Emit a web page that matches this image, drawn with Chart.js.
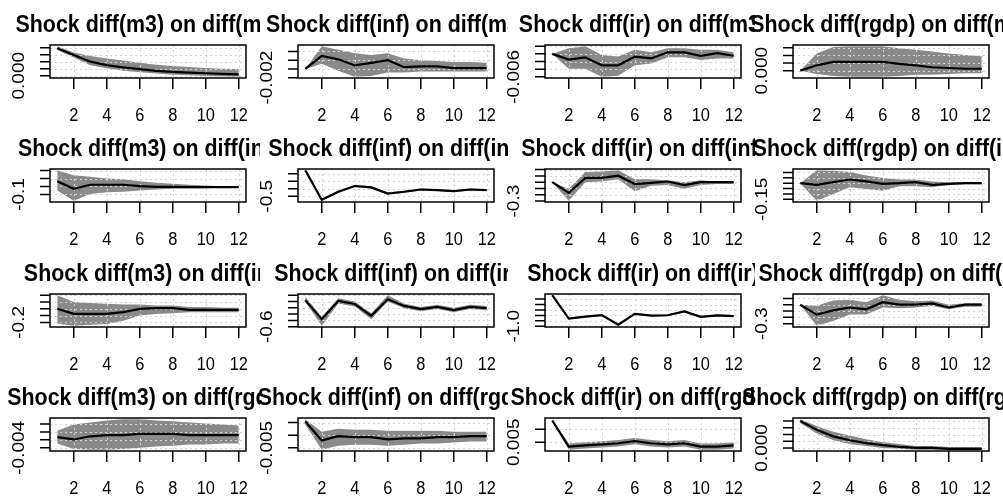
<!DOCTYPE html>
<html>
<head>
<meta charset="utf-8">
<script src="https://cdn.jsdelivr.net/npm/chart.js@4.4.1/dist/chart.umd.min.js"></script>
<style>
  body { margin: 0; background: #fff; }
  #wrap { position: relative; width: 1003px; height: 497px; overflow: hidden; }
  canvas { position: absolute; }
</style>
</head>
<body>
<div id="wrap"></div>
<script>
// horizons on the x axis and the ticks R puts there
const horizons = [1, 2, 3, 4, 5, 6, 7, 8, 9, 10, 11, 12];
const xTicks = [2, 4, 6, 8, 10, 12];
// rows are the responses, columns the shocks
const variables = ['m3', 'inf', 'ir', 'rgdp'];

// impulse responses, one array per panel (row by row)
const irfLine = [
  [0.0078, 0.0059, 0.0040, 0.0030, 0.0024, 0.0019, 0.0014, 0.0011, 0.0009, 0.0007, 0.0005, 0.0004],
  [0, 0.0030, 0.0022, 0.0008, 0.0014, 0.0020, 0.0004, 0.0006, 0.0006, 0.0002, 0.0002, 0.0002],
  [0, -0.0015, -0.0009, -0.0030, -0.0030, -0.0007, -0.0012, 0.0004, 0.0004, -0.0005, 0.0002, -0.0005],
  [0, 0.0014, 0.0023, 0.0023, 0.0023, 0.0023, 0.0018, 0.0014, 0.0009, 0.0007, 0.0005, 0.0005],

  [0.065, -0.030, 0.022, 0.022, 0.022, 0.004, -0.004, -0.004, -0.009, -0.009, -0.009, -0.009],
  [1.23, -0.73, -0.20, 0.18, 0.09, -0.32, -0.20, -0.05, -0.09, -0.16, -0.05, -0.09],
  [0, -0.171, 0.069, 0.069, 0.103, -0.029, -0.011, 0.011, -0.046, 0, 0, 0],
  [0, -0.016, 0.009, 0.034, 0.016, -0.006, 0, 0.009, -0.016, -0.006, 0, 0],

  [0, -0.075, -0.075, -0.075, -0.05, 0, 0.01, 0.01, -0.015, -0.015, -0.015, -0.015],
  [0.24, -0.36, 0.22, 0.12, -0.25, 0.27, 0.06, -0.04, 0.03, -0.07, 0.03, -0.01],
  [1.86, -0.29, -0.12, 0.02, -0.86, 0.14, -0.03, 0.01, 0.37, -0.14, 0, -0.06],
  [0, -0.156, -0.089, -0.044, -0.072, 0.039, 0, 0, 0.022, -0.044, 0, 0],

  [-0.0013, -0.0019, -0.0011, -0.0008, -0.0008, -0.0005, -0.0005, -0.0005, -0.0008, -0.0008, -0.0008, -0.0008],
  [0.0054, -0.0021, -0.0004, -0.0008, -0.0008, -0.0017, -0.0013, -0.0013, -0.0008, -0.0008, -0.0004, -0.0004],
  [0.0133, 0.0033, 0.0038, 0.0042, 0.0046, 0.0054, 0.0046, 0.0042, 0.0046, 0.0033, 0.0033, 0.0038],
  [0.020, 0.0136, 0.0086, 0.0057, 0.0036, 0.0021, 0.0007, 0, 0, -0.0007, -0.0007, -0.0007]
];

const irfUpper = [
  [0.0084, 0.0066, 0.0056, 0.0049, 0.0043, 0.0037, 0.0031, 0.0028, 0.0025, 0.0022, 0.0020, 0.0019],
  [0, 0.0052, 0.0044, 0.0036, 0.0032, 0.0036, 0.0024, 0.0020, 0.0018, 0.0016, 0.0016, 0.0014],
  [0, 0.0015, 0.0020, -0.0003, -0.0007, 0.0011, 0.0004, 0.0015, 0.0015, 0.0011, 0.0011, 0.0004],
  [0, 0.0045, 0.0062, 0.0064, 0.0064, 0.0064, 0.0059, 0.0055, 0.0050, 0.0045, 0.0041, 0.0038],

  [0.205, 0.143, 0.122, 0.100, 0.091, 0.065, 0.048, 0.035, 0.022, 0.013, 0.004, 0.004],
  [1.23, -0.66, -0.13, 0.25, 0.16, -0.25, -0.14, 0.01, -0.03, -0.10, 0.01, -0.03],
  [0, -0.103, 0.16, 0.171, 0.19, 0.046, 0.046, 0.029, 0, 0.029, 0.011, 0.011],
  [0, 0.12, 0.115, 0.103, 0.072, 0.047, 0.034, 0.034, 0.016, 0.009, 0.009, 0.009],

  [0.2, 0.1, 0.085, 0.075, 0.065, 0.065, 0.05, 0.05, 0.025, 0.025, 0.015, 0.015],
  [0.35, -0.28, 0.30, 0.20, -0.17, 0.40, 0.13, 0.03, 0.10, 0.00, 0.10, 0.06],
  [1.86, -0.20, -0.04, 0.10, -0.78, 0.22, 0.05, 0.09, 0.45, -0.06, 0.08, 0.02],
  [0, -0.017, 0.067, 0.078, 0.039, 0.15, 0.078, 0.056, 0.067, 0, 0.022, 0.022],

  [0.0003, 0.0019, 0.0024, 0.0029, 0.0032, 0.0032, 0.0029, 0.0027, 0.0024, 0.0021, 0.0019, 0.0016],
  [0.0063, 0.0013, 0.0025, 0.0021, 0.0021, 0.0017, 0.0017, 0.0017, 0.0017, 0.0013, 0.0013, 0.0013],
  [0.0138, 0.0045, 0.0050, 0.0054, 0.0058, 0.0066, 0.0058, 0.0054, 0.0058, 0.0045, 0.0045, 0.0050],
  [0.0214, 0.0164, 0.0121, 0.0093, 0.0064, 0.0043, 0.0029, 0.0014, 0.0014, 0.0007, 0.0007, 0.0007]
];

const irfLower = [
  [0.0073, 0.0052, 0.0030, 0.0021, 0.0014, 0.0010, 0.0006, 0.0003, 0.0001, -0.0001, -0.0002, -0.0003],
  [0, 0.0012, -0.0004, -0.0018, -0.0016, -0.0008, -0.0008, -0.0006, -0.0006, -0.0006, -0.0006, -0.0006],
  [0, -0.0039, -0.0039, -0.0060, -0.0057, -0.0030, -0.0025, -0.0009, -0.0009, -0.0016, -0.0012, -0.0012],
  [0, -0.0009, -0.0014, -0.0016, -0.0016, -0.0016, -0.0014, -0.0011, -0.0011, -0.0009, -0.0007, -0.0007],

  [-0.052, -0.18, -0.096, -0.074, -0.065, -0.052, -0.039, -0.030, -0.022, -0.022, -0.017, -0.017],
  [1.23, -0.80, -0.27, 0.11, 0.02, -0.39, -0.26, -0.11, -0.15, -0.22, -0.11, -0.15],
  [0, -0.295, 0, 0.011, 0.046, -0.143, -0.057, -0.046, -0.103, -0.046, -0.029, -0.029],
  [0, -0.163, -0.100, -0.038, -0.053, -0.069, -0.028, -0.028, -0.038, -0.016, -0.009, -0.009],

  [-0.215, -0.25, -0.235, -0.225, -0.175, -0.1, -0.075, -0.065, -0.05, -0.05, -0.05, -0.05],
  [0.20, -0.57, 0.14, 0.04, -0.36, 0.20, -0.01, -0.11, -0.04, -0.14, -0.04, -0.08],
  [1.86, -0.38, -0.20, -0.06, -0.96, 0.06, -0.11, -0.07, 0.29, -0.22, -0.08, -0.14],
  [0, -0.333, -0.256, -0.156, -0.156, -0.044, -0.056, -0.044, -0.022, -0.072, -0.033, -0.033],

  [-0.0029, -0.0043, -0.0045, -0.0045, -0.0043, -0.0040, -0.0037, -0.0035, -0.0032, -0.0032, -0.0029, -0.0029],
  [0.0042, -0.0058, -0.0042, -0.0038, -0.0038, -0.0042, -0.0038, -0.0033, -0.0033, -0.0029, -0.0025, -0.0025],
  [0.0128, 0.0021, 0.0026, 0.0030, 0.0034, 0.0042, 0.0034, 0.0030, 0.0034, 0.0021, 0.0021, 0.0026],
  [0.0186, 0.0107, 0.0057, 0.0029, 0.0014, 0, -0.0007, -0.0014, -0.0014, -0.0014, -0.0014, -0.0014]
];

// y ticks per panel; R only has room for the lowest label
const yTicks = [
  [0, 0.002, 0.004, 0.006, 0.008], [-0.002, 0, 0.002, 0.004], [-0.006, -0.004, -0.002, 0, 0.002], [0, 0.002, 0.004, 0.006],
  [-0.1, 0, 0.1, 0.2], [-0.5, 0, 0.5, 1.0], [-0.3, -0.2, -0.1, 0, 0.1, 0.2], [-0.15, -0.1, -0.05, 0, 0.05, 0.1],
  [-0.2, -0.1, 0, 0.1, 0.2], [-0.6, -0.4, -0.2, 0, 0.2, 0.4], [-1.0, -0.5, 0, 0.5, 1.0, 1.5], [-0.3, -0.2, -0.1, 0, 0.1],
  [-0.004, -0.002, 0, 0.002], [-0.005, 0, 0.005], [0.005, 0.010, 0.015], [0, 0.005, 0.010, 0.015, 0.020]
];
const yTickLabels = [
  '0.000', '-0.002', '-0.006', '0.000',
  '-0.1', '-0.5', '-0.3', '-0.15',
  '-0.2', '-0.6', '-1.0', '-0.3',
  '-0.004', '-0.005', '0.005', '0.000'
];

const FONT = '"Liberation Sans", Arial, Helvetica, sans-serif';
const SQUEEZE = 0.91; // the picture is a little narrower than tall
const colLeft = [0, 248, 495, 743];
const rowTop = [0, 124.25, 248.5, 372.75];

// R-like axes: dotted grid over the band, box, outward ticks, rotated y label, bold title
const rStyle = {
  id: 'rStyle',
  afterDatasetDraw(chart, args) {
    if (args.index !== 1) return;
    const { ctx, chartArea: a, scales: { x, y } } = chart;
    const o = chart.options.plugins.rStyle;
    ctx.save();
    ctx.beginPath();
    ctx.rect(a.left, a.top, a.right - a.left, a.bottom - a.top);
    ctx.clip();
    ctx.strokeStyle = '#d3d3d3';
    ctx.lineWidth = 1;
    ctx.setLineDash([2, 3]);
    xTicks.forEach(v => {
      const px = Math.round(x.getPixelForValue(v)) + 0.5;
      ctx.beginPath(); ctx.moveTo(px, a.top); ctx.lineTo(px, a.bottom); ctx.stroke();
    });
    o.ticks.forEach(v => {
      const py = Math.round(y.getPixelForValue(v)) + 0.5;
      ctx.beginPath(); ctx.moveTo(a.left, py); ctx.lineTo(a.right, py); ctx.stroke();
    });
    ctx.restore();
  },
  afterDraw(chart) {
    const { ctx, chartArea: a, scales: { x, y } } = chart;
    const o = chart.options.plugins.rStyle;
    ctx.save();
    ctx.strokeStyle = '#000';
    ctx.fillStyle = '#000';
    ctx.lineWidth = 1.5;
    ctx.strokeRect(a.left, a.top, a.right - a.left, a.bottom - a.top);

    // x axis
    ctx.beginPath();
    xTicks.forEach(v => {
      const px = x.getPixelForValue(v);
      ctx.moveTo(px, a.bottom); ctx.lineTo(px, a.bottom + 11);
    });
    ctx.stroke();
    ctx.font = '18px ' + FONT;
    ctx.textAlign = 'center';
    ctx.textBaseline = 'alphabetic';
    xTicks.forEach(v => {
      ctx.setTransform(SQUEEZE, 0, 0, 1, x.getPixelForValue(v), 120.5);
      ctx.fillText(String(v), 0, 0);
    });
    ctx.setTransform(1, 0, 0, 1, 0, 0);

    // y axis
    ctx.beginPath();
    o.ticks.forEach(v => {
      const py = y.getPixelForValue(v);
      ctx.moveTo(a.left, py); ctx.lineTo(a.left - 10, py);
    });
    ctx.stroke();
    const py0 = y.getPixelForValue(o.ticks[0]);
    ctx.font = '19px ' + FONT;
    ctx.translate(a.left - 26, py0);
    ctx.rotate(-Math.PI / 2);
    ctx.scale(1, 0.85);
    ctx.fillText(o.label, 0, 0);
    ctx.setTransform(1, 0, 0, 1, 0, 0);

    // title, clipped by the canvas like R clips it to the figure
    ctx.font = 'bold 23.5px ' + FONT;
    ctx.textAlign = 'center';
    ctx.setTransform(SQUEEZE, 0, 0, 1, (a.left + a.right) / 2, 32);
    ctx.fillText(o.title, 0, 0);
    ctx.restore();
  }
};

const wrap = document.getElementById('wrap');

variables.forEach((resp, row) => {
  variables.forEach((shock, col) => {
    const p = row * 4 + col;
    const canvas = document.createElement('canvas');
    const w = col === 3 ? 1003 - colLeft[3] : 260;
    canvas.width = w;
    canvas.height = 124;
    canvas.style.left = colLeft[col] + 'px';
    canvas.style.top = rowTop[row] + 'px';
    canvas.style.width = w + 'px';
    canvas.style.height = '124px';
    wrap.appendChild(canvas);

    const all = irfLine[p].concat(irfUpper[p], irfLower[p]);
    const lo = Math.min(...all), hi = Math.max(...all);
    const ext = (hi - lo) * 0.04;
    const yMin = lo - ext, yMax = hi + ext;
    const ticks = yTicks[p].filter(t => t >= yMin - 1e-12 && t <= yMax + 1e-12);

    const pts = arr => arr.map((v, i) => ({ x: horizons[i], y: v }));

    new Chart(canvas.getContext('2d'), {
      type: 'line',
      data: {
        datasets: [
          { data: pts(irfLine[p]), borderColor: '#000', borderWidth: 2.2, fill: false, pointRadius: 0, tension: 0 },
          { data: pts(irfUpper[p]), borderWidth: 0, borderColor: 'rgba(0,0,0,0)', backgroundColor: '#8a8a8a', fill: '+1', pointRadius: 0, tension: 0 },
          { data: pts(irfLower[p]), borderWidth: 0, borderColor: 'rgba(0,0,0,0)', fill: false, pointRadius: 0, tension: 0 }
        ]
      },
      options: {
        responsive: false,
        animation: false,
        devicePixelRatio: 1,
        layout: { padding: { left: 50, right: w - 246, top: 45, bottom: 46 } },
        scales: {
          x: { type: 'linear', display: false, min: 0.56, max: 12.44 },
          y: { type: 'linear', display: false, min: yMin, max: yMax }
        },
        plugins: {
          legend: { display: false },
          tooltip: { enabled: false },
          rStyle: {
            ticks: ticks,
            label: yTickLabels[p],
            title: 'Shock diff(' + shock + ') on diff(' + resp + ')'
          }
        }
      },
      plugins: [rStyle]
    });
  });
});
</script>
</body>
</html>
